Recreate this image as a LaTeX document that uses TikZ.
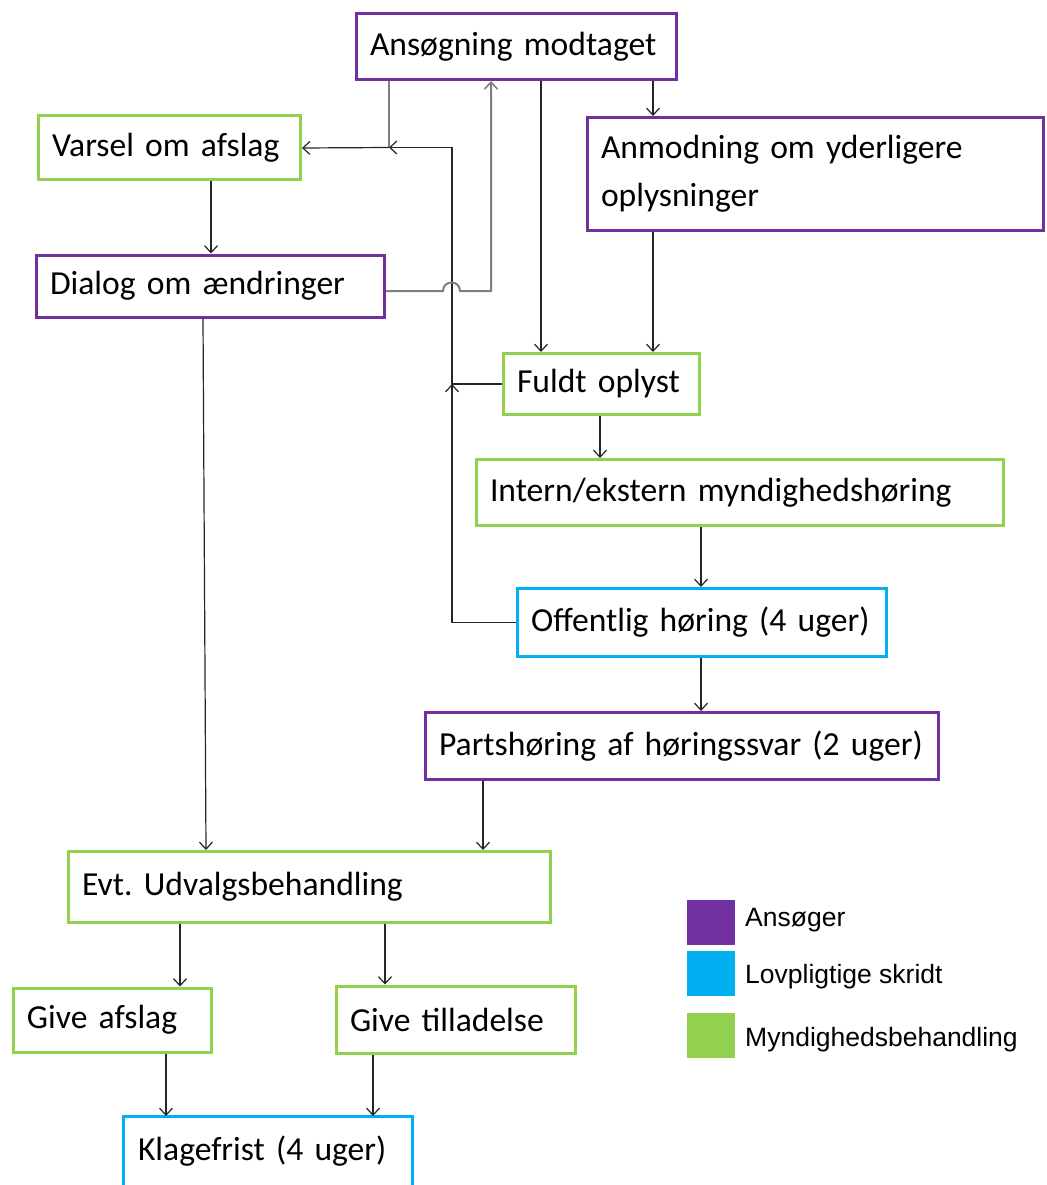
\documentclass[tikz,border=0pt]{standalone}
\usepackage{fontspec}
\setmainfont{Carlito}
\newfontfamily\legfont{Liberation Sans}
\usetikzlibrary{arrows.meta}
\frenchspacing
\definecolor{cpurple}{HTML}{7030A0}
\definecolor{cblue}{HTML}{00B0F0}
\definecolor{cgreen}{HTML}{92D050}
\definecolor{lineblk}{HTML}{262626}
\definecolor{linegray}{HTML}{7F7F7F}
\tikzset{
  box/.style={draw=#1, line width=3pt, fill=white, rectangle, inner xsep=13.5pt, inner ysep=0pt,
    align=left, font=\fontsize{33.6}{48}\selectfont},
  arr/.style={draw=lineblk, line width=1.2pt, -{Straight Barb[length=7pt,width=13pt,line width=1.2pt]}},
  plain/.style={draw=lineblk, line width=1.2pt},
  garr/.style={draw=linegray, line width=2pt, -{Straight Barb[length=7pt,width=13pt,line width=1.6pt]}},
  gplain/.style={draw=linegray, line width=2pt},
  legsq/.style={fill=#1, draw=none, minimum width=48pt, minimum height=45pt, inner sep=0pt},
  legtxt/.style={anchor=west, inner sep=0pt, font=\legfont\fontsize{26.5}{30}\selectfont},
}
\begin{document}
\begin{tikzpicture}[x=1pt,y=-1pt]
\useasboundingbox (0,0) rectangle (1046,1185);
\fill[white] (0,0) rectangle (1046,1185);

% boxes
\node[box=cpurple, minimum width=320pt, minimum height=66pt, text width=293pt] (A) at (516.5,46.5) {Ansøgning modtaget};
\node[box=cgreen, minimum width=262pt, minimum height=64pt, text width=235pt] (V) at (169.5,148) {Varsel om afslag};
\node[box=cpurple, minimum width=456pt, minimum height=113pt, text width=429pt] (M) at (815.5,174) {Anmodning om yderligere\\oplysninger};
\node[box=cpurple, minimum width=348pt, minimum height=62pt, text width=321pt] (D) at (210.5,286) {Dialog om ændringer};
\node[box=cgreen, minimum width=196pt, minimum height=61pt, text width=169pt] (F) at (601.5,384) {Fuldt oplyst};
\node[box=cgreen, minimum width=527pt, minimum height=66pt, text width=500pt] (I) at (740,492.5) {Intern/ekstern myndighedshøring};
\node[box=cblue, minimum width=369pt, minimum height=68pt, text width=342pt] (O) at (702,622.5) {Offentlig høring (4 uger)};
\node[box=cpurple, minimum width=513pt, minimum height=67pt, text width=486pt] (P) at (682,746) {Partshøring af høringssvar (2 uger)};
\node[box=cgreen, minimum width=482pt, minimum height=71pt, text width=455pt] (E) at (309.5,887) {Evt. Udvalgsbehandling};
\node[box=cgreen, minimum width=198pt, minimum height=64pt, text width=171pt] (GA) at (112.5,1020) {Give afslag};
\node[box=cgreen, minimum width=239pt, minimum height=67pt, text width=212pt] (GT) at (456,1019.5) {Give tilladelse};
\node[box=cblue, draw=none, minimum width=286pt, minimum height=67pt, text width=259pt] (K) at (267.5,1151) {Klagefrist (4 uger)};
\draw[cblue, line width=3pt] ([yshift=-60pt]K.south west) -- (K.north west) -- (K.north east) -- ([yshift=-60pt]K.south east);

% helper coordinates
\coordinate (jA) at (389,147.5);
\coordinate (jB) at (452,147.5);
\coordinate (jC) at (452,384);
\coordinate (jD) at (491,291);
\coordinate (hopL) at (443,291);
\coordinate (hopR) at (460,291);
\coordinate (x541) at (541,0);
\coordinate (x653) at (653,0);
\coordinate (x211) at (211,0);
\coordinate (x600) at (600,0);
\coordinate (x701) at (701,0);
\coordinate (x483) at (483,0);
\coordinate (x203) at (203,0);
\coordinate (x206) at (206,0);
\coordinate (x180) at (180,0);
\coordinate (x385) at (385,0);
\coordinate (x166) at (166,0);
\coordinate (x373) at (373,0);

% connectors
\draw[gplain] (A.south -| jA) -- (jA);
\draw[arr] (jA) -- (V.east);
\draw[arr] (F.west) -| (jB) -- (jA);
\draw[arr] (O.west) -| (jC);
\draw[garr] (D.east |- hopL) -- (hopL) .. controls (443,279.7) and (460,279.7) .. (hopR) -- (jD) -- (A.south -| jD);
\draw[arr] (A.south -| x541) -- (F.north -| x541);
\draw[arr] (A.south -| x653) -- (M.north -| x653);
\draw[arr] (M.south -| x653) -- (F.north -| x653);
\draw[arr] (V.south -| x211) -- (D.north -| x211);
\draw[arr] (F.south -| x600) -- (I.north -| x600);
\draw[arr] (I.south -| x701) -- (O.north -| x701);
\draw[arr] (O.south -| x701) -- (P.north -| x701);
\draw[arr] (P.south -| x483) -- (E.north -| x483);
\draw[arr] (D.south -| x203) -- (E.north -| x206);
\draw[arr] (E.south -| x180) -- (GA.north -| x180);
\draw[arr] (E.south -| x385) -- (GT.north -| x385);
\draw[arr] (GA.south -| x166) -- (K.north -| x166);
\draw[arr] (GT.south -| x373) -- (K.north -| x373);

% legend
\node[legsq=cpurple] (L1) at (711,922.5) {};
\node[legsq=cblue] (L2) at (711,973) {};
\node[legsq=cgreen] (L3) at (711,1035.5) {};
\node[legtxt] (T1) at (745,920.5) {Ansøger};
\node[legtxt] (T2) at (745,976.5) {Lovpligtige skridt};
\node[legtxt] (T3) at (745,1039.5) {Myndighedsbehandling};
\end{tikzpicture}
\end{document}
